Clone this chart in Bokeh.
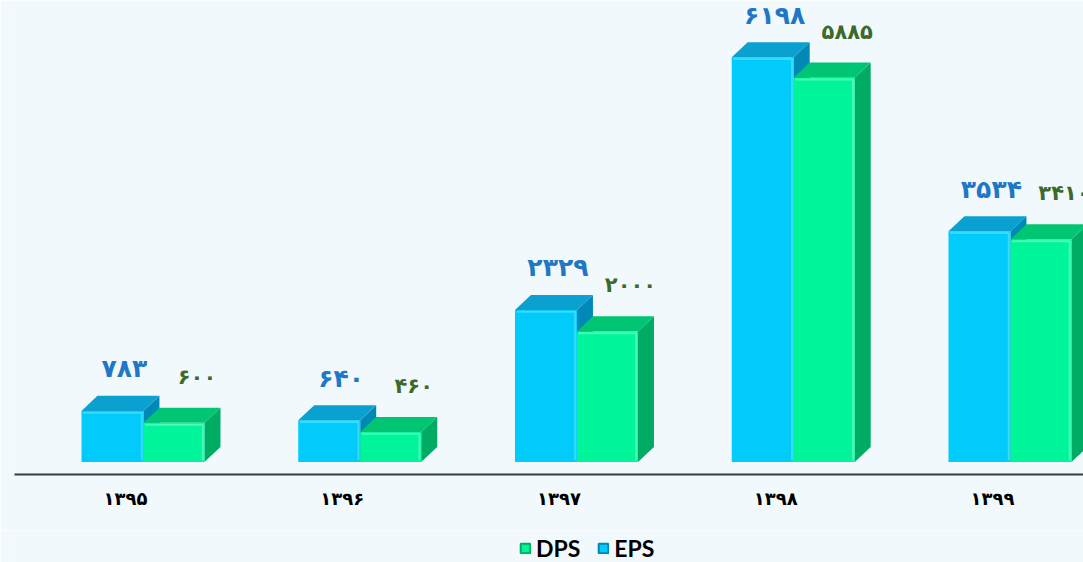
from bokeh.plotting import figure
from bokeh.layouts import column
from bokeh.models import Range1d, FixedTicker, ColumnDataSource, Legend, LegendItem
from bokeh.core.properties import value
from bokeh.embed import file_html
from bokeh.resources import INLINE

# ---- data ----
years = ["1395", "1396", "1397", "1398", "1399"]
eps = [783, 640, 2329, 6198, 3534]
dps = [600, 460, 2000, 5885, 3410]


def fa(s):
    return str(s).translate(str.maketrans("0123456789", "۰۱۲۳۴۵۶۷۸۹"))


year_labels = [fa(y) for y in years]
eps_labels = [fa(v) for v in eps]
dps_labels = [fa(v) for v in dps]

BG = "#f2f9fc"
W, H_MAIN, H_LEG = 1083, 530, 32

EPS_FRONT, EPS_TOP, EPS_SIDE = "#00cbfa", "#0aa0d0", "#0088b7"
DPS_FRONT, DPS_TOP, DPS_SIDE = "#00f59b", "#00c673", "#00ab63"

p = figure(width=W, height=H_MAIN, output_backend="svg", toolbar_location=None,
           x_range=Range1d(-0.512, 4.420), y_range=Range1d(-191, 7066),
           min_border_left=14, min_border_right=0, min_border_top=0, min_border_bottom=56,
           background_fill_color=BG, border_fill_color=BG, outline_line_color=None)
p.grid.visible = False
p.yaxis.visible = False

# geometry of the pseudo-3D bars (in data units)
DX = 0.0738      # depth shift to the right
DY = 230         # depth shift upwards
EPS_X0, EPS_X1 = -0.203, 0.083
DPS_X0, DPS_X1 = 0.083, 0.3645
IX, IY = 0.008, 28   # inset for bevel highlight


def faces(vals, x0o, x1o):
    fx, fy, tx, ty, sx, sy, hx, hy = [], [], [], [], [], [], [], []
    for i, v in enumerate(vals):
        x0, x1 = i + x0o, i + x1o
        fx.append([x0, x1, x1, x0]); fy.append([0, 0, v, v])
        tx.append([x0, x1, x1 + DX, x0 + DX]); ty.append([v, v, v + DY, v + DY])
        sx.append([x1, x1 + DX, x1 + DX, x1]); sy.append([0, DY, v + DY, v])
        hx.append([x0 + IX, x1 - IX, x1 - IX]); hy.append([v - IY, v - IY, IY])
    return (ColumnDataSource(dict(xs=fx, ys=fy)),
            ColumnDataSource(dict(xs=tx, ys=ty)),
            ColumnDataSource(dict(xs=sx, ys=sy)),
            ColumnDataSource(dict(xs=hx, ys=hy)))


ef, et, es, eh = faces(eps, EPS_X0, EPS_X1)
df, dt, ds, dh = faces(dps, DPS_X0, DPS_X1)

p.patches("xs", "ys", source=es, fill_color=EPS_SIDE, line_color=None)
p.patches("xs", "ys", source=et, fill_color=EPS_TOP, line_color=None)
p.patches("xs", "ys", source=ef, fill_color=EPS_FRONT, line_color=None)
p.multi_line("xs", "ys", source=eh, line_color="#5fe6ff", line_width=2, line_alpha=0.6)
p.patches("xs", "ys", source=ds, fill_color=DPS_SIDE, line_color=None)
p.patches("xs", "ys", source=dt, fill_color=DPS_TOP, line_color=None)
p.patches("xs", "ys", source=df, fill_color=DPS_FRONT, line_color=None)
p.multi_line("xs", "ys", source=dh, line_color="#7dffc6", line_width=2, line_alpha=0.6)

# value labels
cats = list(range(len(years)))
p.text(x=[c - 0.005 for c in cats], y=eps, text=eps_labels, y_offset=-42,
       text_align="center", text_baseline="middle", text_color="#1f78c6",
       text_font=value("DejaVu Sans"), text_font_style="bold", text_font_size="25px")
p.text(x=[c + 0.33 for c in cats], y=dps, text=dps_labels, y_offset=-46,
       text_align="center", text_baseline="middle", text_color="#3c6a2b",
       text_font=value("DejaVu Sans"), text_font_style="bold", text_font_size="21px")

# x axis
ax = p.xaxis[0]
ax.ticker = FixedTicker(ticks=cats)
ax.major_label_overrides = {c: lab for c, lab in zip(cats, year_labels)}
ax.axis_line_color = "#3a3a3a"
ax.axis_line_width = 2
ax.major_tick_line_color = None
ax.minor_tick_line_color = None
ax.major_tick_out = 0
ax.major_tick_in = 0
ax.major_label_standoff = 13
ax.major_label_text_font = "DejaVu Sans"
ax.major_label_text_font_style = "bold"
ax.major_label_text_font_size = "18px"
ax.major_label_text_color = "#000000"

# legend strip (its glyph renderers reuse the bar sources, drawn outside its visible range)
p2 = figure(width=W, height=H_LEG, output_backend="svg", toolbar_location=None,
            x_range=Range1d(100, 101), y_range=Range1d(100, 101), min_border=0,
            background_fill_color=BG, border_fill_color=BG, outline_line_color=None)
p2.grid.visible = False
p2.axis.visible = False
r_dps = p2.patches("xs", "ys", source=df, fill_color=DPS_FRONT, line_color=DPS_SIDE, line_width=2)
r_eps = p2.patches("xs", "ys", source=ef, fill_color=EPS_FRONT, line_color=EPS_SIDE, line_width=2)
legend = Legend(items=[LegendItem(label="DPS", renderers=[r_dps], index=0),
                       LegendItem(label="EPS", renderers=[r_eps], index=0)],
                orientation="horizontal", location=(505, 0),
                background_fill_alpha=0, border_line_alpha=0,
                label_text_font="Lato", label_text_font_style="bold",
                label_text_font_size="23px", label_text_color="#000000",
                glyph_width=12, glyph_height=12, spacing=17, label_standoff=5,
                padding=0, margin=0)
p2.add_layout(legend, "center")

open("out.html", "w").write(file_html(column(p, p2, spacing=0), INLINE))
